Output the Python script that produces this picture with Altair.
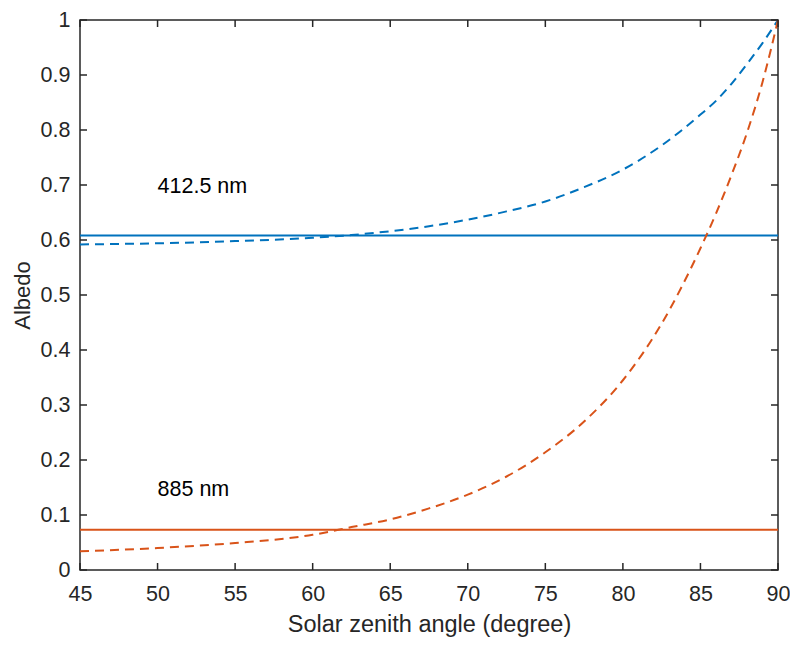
import altair as alt
import pandas as pd

angles = [45, 50, 55, 60, 62.5, 65, 67.5, 70, 72.5, 75, 77.5, 80, 82.5, 85, 86, 87, 88, 89, 90]
albedo_412_dashed = [0.592, 0.594, 0.598, 0.604, 0.609, 0.616, 0.625, 0.637, 0.652, 0.670,
                     0.696, 0.728, 0.772, 0.828, 0.853, 0.884, 0.920, 0.958, 1.0]
albedo_885_dashed = [0.034, 0.040, 0.049, 0.064, 0.078, 0.092, 0.112, 0.137, 0.170, 0.214,
                     0.270, 0.345, 0.448, 0.585, 0.648, 0.718, 0.795, 0.887, 1.0]
albedo_412_const = 0.608
albedo_885_const = 0.073

label_text = ["412.5 nm", "885 nm"]
label_angle = [50, 50]
label_albedo = [0.697, 0.146]

x_ticks = [45, 50, 55, 60, 65, 70, 75, 80, 85, 90]
y_ticks = [0, 0.1, 0.2, 0.3, 0.4, 0.5, 0.6, 0.7, 0.8, 0.9, 1]

BLUE = "#0072BD"
ORANGE = "#D95319"
AX = "#262626"
FONT = "Liberation Sans"
W, H = 698, 550

xs = alt.Scale(domain=[45, 90], nice=False, zero=False)
ys = alt.Scale(domain=[0, 1], nice=False, zero=False)

curves = pd.DataFrame({
    "angle": angles * 2,
    "albedo": albedo_412_dashed + albedo_885_dashed,
    "series": ["412"] * len(angles) + ["885"] * len(angles),
})
consts = pd.DataFrame({
    "a0": [45, 45], "a1": [90, 90],
    "albedo": [albedo_412_const, albedo_885_const],
    "series": ["412", "885"],
})
labels = pd.DataFrame({"angle": label_angle, "albedo": label_albedo, "text": label_text})
xt = pd.DataFrame({"t": x_ticks})
yt = pd.DataFrame({"t": y_ticks})

color = alt.Color("series:N", scale=alt.Scale(domain=["412", "885"], range=[BLUE, ORANGE]), legend=None)

x_axis = alt.Axis(values=x_ticks, ticks=False, tickSize=0, domain=False, grid=False,
                  labelFontSize=21.5, labelColor=AX, labelPadding=13, labelFont=FONT,
                  labelFlush=False, labelOverlap=False,
                  title="Solar zenith angle (degree)", titleFontSize=23.5, titleColor=AX,
                  titleFont=FONT, titleFontWeight="normal", titlePadding=8)
y_axis = alt.Axis(values=y_ticks, ticks=False, tickSize=0, domain=False, grid=False,
                  labelFontSize=21.5, labelColor=AX, labelPadding=10, labelFont=FONT,
                  labelFlush=False, labelOverlap=False,
                  labelExpr="datum.value == 1 ? '1' : (datum.value == 0 ? '0' : format(datum.value, '.1f'))",
                  title="Albedo", titleFontSize=22, titleColor=AX, titleFont=FONT,
                  titleFontWeight="normal", titlePadding=6)

dashed = alt.Chart(curves).mark_line(strokeWidth=2, strokeDash=[9, 6], interpolate="monotone").encode(
    x=alt.X("angle:Q", scale=xs, axis=x_axis),
    y=alt.Y("albedo:Q", scale=ys, axis=y_axis),
    color=color,
    detail="series:N",
)

solid = alt.Chart(consts).mark_rule(strokeWidth=2).encode(
    x=alt.X("a0:Q", scale=xs),
    x2="a1:Q",
    y=alt.Y("albedo:Q", scale=ys),
    color=color,
)

text = alt.Chart(labels).mark_text(align="left", baseline="middle", fontSize=21.5, font=FONT, color="black").encode(
    x=alt.X("angle:Q", scale=xs),
    y=alt.Y("albedo:Q", scale=ys),
    text="text:N",
)

tick_style = dict(color=AX, strokeWidth=1.5)
xb = alt.Chart(xt).mark_rule(**tick_style).encode(x=alt.X("t:Q", scale=xs), y=alt.value(H), y2=alt.value(H - 7))
xtop = alt.Chart(xt).mark_rule(**tick_style).encode(x=alt.X("t:Q", scale=xs), y=alt.value(0), y2=alt.value(7))
yl = alt.Chart(yt).mark_rule(**tick_style).encode(y=alt.Y("t:Q", scale=ys), x=alt.value(0), x2=alt.value(7))
yr = alt.Chart(yt).mark_rule(**tick_style).encode(y=alt.Y("t:Q", scale=ys), x=alt.value(W), x2=alt.value(W - 7))

chart = alt.layer(solid, dashed, text, xb, xtop, yl, yr).properties(
    width=W, height=H,
    autosize=alt.AutoSizeParams(type="none"),
    padding={"left": 72, "top": 12, "right": 12, "bottom": 70},
    background="white",
).configure_view(stroke=AX, strokeWidth=1.5)

chart.save("out.html", embed_options={"renderer": "svg", "actions": False})
